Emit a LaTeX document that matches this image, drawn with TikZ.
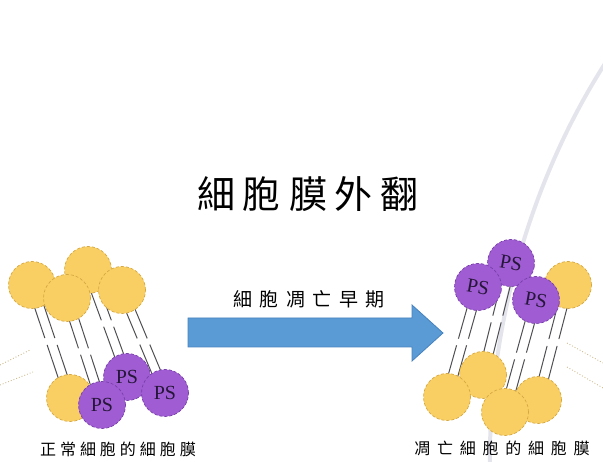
\documentclass[tikz,border=0pt]{standalone}
\usepackage{fontspec}
\setmainfont{Liberation Serif}
\newfontfamily\cjk{Noto Sans CJK TC}
\usetikzlibrary{calc,backgrounds}

\definecolor{headyellow}{RGB}{249,207,100}
\definecolor{headrim}{RGB}{214,168,66}
\definecolor{pspurple}{RGB}{160,92,210}
\definecolor{psrim}{RGB}{120,64,170}
\definecolor{pstext}{RGB}{38,22,58}
\definecolor{tailgray}{RGB}{80,80,84}
\definecolor{arrowblue}{RGB}{91,155,213}
\definecolor{arrowrim}{RGB}{70,130,190}
\definecolor{pointer}{RGB}{205,188,145}
\definecolor{arcgray}{RGB}{228,228,236}

\begin{document}
\begin{tikzpicture}[x=1pt,y=-1pt,
  head/.style={circle,minimum size=47pt,inner sep=0pt,densely dashed,line width=0.7pt},
  lipid/.style={head,fill=headyellow,draw=headrim},
  ps/.style={head,fill=pspurple,draw=psrim,text=pstext,font=\fontsize{20}{20}\selectfont},
  tail/.style={draw=tailgray,line width=1pt},
  label/.style={font=\cjk\fontsize{16}{16}\selectfont\addfontfeature{LetterSpace=#1}}]

\useasboundingbox (0,0) rectangle (603,462);

% headings
\node[font=\cjk\fontsize{38}{38}\selectfont\addfontfeature{LetterSpace=21}] (title) at (308,194) {細胞膜外翻};
\node[font=\cjk\fontsize{19}{19}\selectfont\addfontfeature{LetterSpace=40}] (stage) at (309,299) {細胞凋亡早期};

% big arrow
\draw[fill=arrowblue,draw=arrowrim,line width=0.8pt]
  (188,318) -- (412,318) -- (412,305) -- (443,333) -- (412,361) -- (412,347) -- (188,347) -- cycle;

% normal membrane: top leaflet
\node[lipid] (lt1) at (32,285) {};
\node[lipid] (lt2) at (88,270) {};
\node[lipid] (lt4) at (122,290) {};
\node[lipid] (lt3) at (67,298) {};
% normal membrane: bottom leaflet
\node[lipid] (lb1) at (70,398) {};
\node[ps] (lb2) at (127,377) {PS};
\node[ps] (lb4) at (165,393) {PS};
\node[ps] (lb3) at (102,405) {PS};

% apoptotic membrane: top leaflet
\node[lipid] (rt4) at (568,285) {};
\node[ps,rotate=-10] (rt1) at (511,263) {PS};
\node[ps,rotate=-10] (rt2) at (478,287) {PS};
\node[ps,rotate=-10] (rt3) at (536,300) {PS};
% apoptotic membrane: bottom leaflet
\node[lipid] (rb1) at (483,375) {};
\node[lipid] (rb4) at (538,400) {};
\node[lipid] (rb2) at (447,397) {};
\node[lipid] (rb3) at (505,412) {};

\begin{scope}[on background layer]
  % faint arc behind everything
  \draw[arcgray,line width=4pt] (606,62) .. controls (530,180) and (488,330) .. (490,466);
  % fatty acid tails, split in the middle of the bilayer
  \foreach \m in {l,r}
    \foreach \i in {1,...,4}
      \foreach \s in {-5,5} {
        \draw[tail] ($(\m t\i)+(\s,0)$) -- ($(\m t\i)!0.47!(\m b\i)+(\s,0)$);
        \draw[tail] ($(\m t\i)!0.53!(\m b\i)+(\s,0)$) -- ($(\m b\i)+(\s,0)$);
      }
\end{scope}

% captions
\node[label=25] (normal) at (118,449) {正常細胞的細胞膜};
\node[label=42] (apop) at (502,448) {凋亡細胞的細胞膜};

% pointer stubs at the edges
\draw[pointer,dotted,line width=0.9pt] (0,365) -- (30,350);
\draw[pointer,dotted,line width=0.9pt] (0,385) -- (33,372);
\draw[pointer,dotted,line width=0.9pt] (567,343) -- (603,363);
\draw[pointer,dotted,line width=0.9pt] (567,367) -- (603,388);
\end{tikzpicture}
\end{document}
